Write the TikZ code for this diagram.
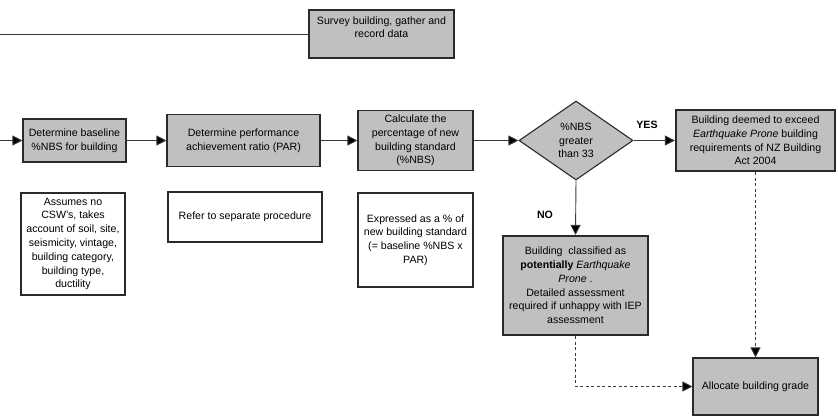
\documentclass[tikz,border=0pt]{standalone}
\usepackage{fontspec}
\setmainfont{Liberation Sans}
\usetikzlibrary{shapes.geometric,arrows.meta}
\definecolor{boxgray}{HTML}{C0C0C0}
\definecolor{edge}{HTML}{2A2A2A}
\definecolor{conn}{HTML}{3A3A3A}
\tikzset{
  base/.style={draw=edge, line width=1.1pt, inner sep=0pt, align=center, font=\fontsize{10.6}{13.8}\selectfont},
  gbox/.style={base, fill=boxgray},
  wbox/.style={base, fill=white},
  thickbox/.style={gbox, line width=2.2pt},
  arr/.style={draw=conn, line width=0.9pt, -{Triangle[length=10pt,width=10pt,fill=black]}},
  darr/.style={arr, dashed, dash pattern=on 3pt off 2.5pt},
  lab/.style={font=\fontsize{10.6}{12}\selectfont\bfseries, inner sep=0pt}
}
\begin{document}
\begin{tikzpicture}[x=1pt,y=-1pt]
\useasboundingbox (0,0) rectangle (838,418);
% top
\node[gbox, minimum width=145pt, minimum height=48pt] (survey) at (381.5,34) {Survey building, gather and\\record data\\\mbox{}};
\coordinate (topstart) at (0,34);
\draw[draw=conn, line width=0.9pt] (topstart) -- (survey.west);
% row 1
\coordinate (rowstart) at (0,140.5);
\node[gbox, minimum width=103pt, minimum height=43pt] (b1) at (74.5,140.5) {Determine baseline\\\%NBS for building};
\node[gbox, minimum width=153pt, minimum height=52pt] (b2) at (243.5,140.5) {Determine performance\\achievement ratio (PAR)};
\node[gbox, minimum width=115pt, minimum height=60pt] (b3) at (415.5,140.5) {Calculate the\\percentage of new\\building standard\\(\%NBS)};
\node[gbox, diamond, minimum width=114pt, minimum height=79pt] (dia) at (576,140.5) {\%NBS\\greater\\than 33};
\node[thickbox, minimum width=159pt, minimum height=61pt] (deem) at (755.5,140.5) {Building deemed to exceed\\\textit{Earthquake Prone} building\\requirements of NZ Building\\Act 2004};
\node[thickbox, minimum width=145pt, minimum height=99pt] (pot) at (575.5,285.5) {Building~ classified as\\\textbf{potentially} \textit{Earthquake}\\\textit{Prone} .\\Detailed assessment\\required if unhappy with IEP\\assessment};
\node[gbox, minimum width=125pt, minimum height=57pt] (alloc) at (755.5,386.5) {Allocate building grade};
% notes
\node[wbox, minimum width=104pt, minimum height=102pt] (na) at (73,244) {Assumes no\\CSW's, takes\\account of soil, site,\\seismicity, vintage,\\building category,\\building type,\\ductility};
\node[wbox, minimum width=154pt, minimum height=50pt] (nb) at (245,217) {Refer to separate procedure};
\node[wbox, minimum width=115pt, minimum height=94pt] (nc) at (415.5,240) {Expressed as a \% of\\new building standard\\(= baseline \%NBS x\\PAR)};
% labels
\node[lab] (yes) at (647,125) {YES};
\node[lab] (no) at (545,215) {NO};
% connectors
\draw[arr] (rowstart) -- (b1.west);
\draw[arr] (b1.east) -- (b2.west);
\draw[arr] (b2.east) -- (b3.west);
\draw[arr] (b3.east) -- (dia.west);
\draw[arr] (dia.east) -- (deem.west);
\draw[arr] (dia.south) -- (pot.north);
\draw[darr] (pot.south) |- (alloc.west);
\draw[darr] (deem.south) -- (alloc.north);
\end{tikzpicture}
\end{document}
